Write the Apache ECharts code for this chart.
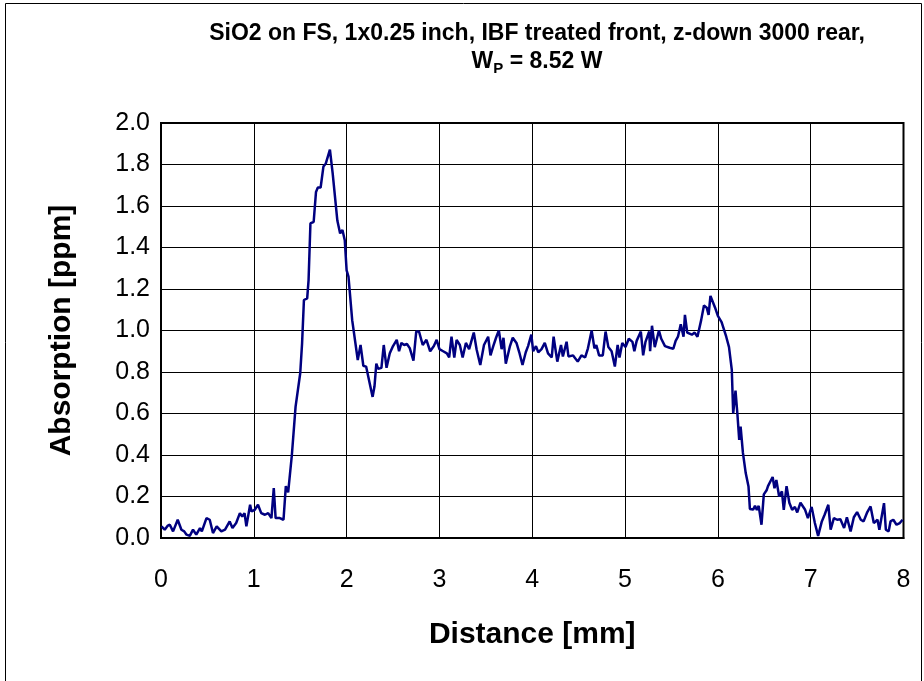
<!DOCTYPE html>
<html>
<head>
<meta charset="utf-8">
<script src="https://cdn.jsdelivr.net/npm/echarts@6/dist/echarts.min.js"></script>
<style>
html,body{margin:0;padding:0;background:#fff;}
#chart{width:924px;height:681px;}
</style>
</head>
<body>
<div id="chart"></div>
<script>
const titleLine1 = "SiO2 on FS, 1x0.25 inch, IBF treated front, z-down 3000 rear,";
const xAxisName = "Distance [mm]";
const yAxisName = "Absorption [ppm]";

const distance = [
0.005,0.04,0.07,0.095,0.13,0.18,0.22,0.25,0.275,0.31,0.345,0.38,0.42,0.44,0.49,0.525,0.56,0.60,0.615,0.65,
0.69,0.74,0.77,0.81,0.85,0.875,0.90,0.92,0.96,0.975,1.01,1.045,1.08,1.12,1.155,1.19,1.215,1.235,1.28,1.32,
1.345,1.37,1.41,1.45,1.47,1.50,1.52,1.54,1.575,1.59,1.61,1.645,1.67,1.69,1.72,1.75,1.776,1.82,1.85,1.87,
1.90,1.93,1.955,1.98,2.00,2.02,2.06,2.08,2.12,2.15,2.18,2.21,2.23,2.28,2.30,2.32,2.34,2.375,2.40,2.43,
2.465,2.50,2.54,2.565,2.59,2.62,2.65,2.68,2.72,2.75,2.78,2.82,2.86,2.90,2.94,2.97,3.00,3.04,3.08,3.105,
3.13,3.16,3.185,3.22,3.25,3.285,3.32,3.37,3.40,3.44,3.48,3.525,3.55,3.58,3.61,3.64,3.67,3.69,3.715,3.76,
3.79,3.83,3.86,3.895,3.93,3.955,3.99,4.01,4.04,4.065,4.10,4.135,4.17,4.21,4.23,4.27,4.31,4.33,4.37,4.39,
4.44,4.49,4.53,4.57,4.60,4.64,4.67,4.69,4.72,4.76,4.79,4.82,4.855,4.89,4.92,4.94,4.97,5.005,5.04,5.08,
5.10,5.125,5.17,5.195,5.22,5.26,5.27,5.29,5.32,5.365,5.39,5.43,5.48,5.52,5.545,5.57,5.60,5.63,5.645,5.67,
5.72,5.75,5.78,5.82,5.85,5.88,5.90,5.92,5.97,6.00,6.04,6.09,6.12,6.15,6.165,6.19,6.21,6.23,6.245,6.27,
6.30,6.33,6.345,6.38,6.40,6.42,6.44,6.47,6.495,6.525,6.54,6.59,6.61,6.63,6.66,6.69,6.71,6.74,6.77,6.80,
6.83,6.855,6.89,6.94,6.97,7.01,7.045,7.08,7.12,7.15,7.19,7.215,7.25,7.285,7.32,7.36,7.39,7.43,7.465,7.50,
7.54,7.57,7.61,7.645,7.68,7.72,7.74,7.79,7.81,7.84,7.86,7.89,7.925,7.96,7.99
];
const absorption = [
0.056,0.04,0.058,0.064,0.032,0.088,0.04,0.032,0.016,0.01,0.04,0.016,0.048,0.032,0.096,0.088,0.024,0.056,0.064,0.032,
0.04,0.08,0.048,0.072,0.12,0.104,0.12,0.056,0.16,0.128,0.136,0.16,0.12,0.112,0.12,0.096,0.24,0.096,0.096,0.088,
0.25,0.22,0.40,0.633,0.633,0.794,0.938,1.147,1.155,1.243,1.516,1.524,1.668,1.689,1.689,1.79,1.805,1.872,1.756,1.75,
1.53,1.468,1.484,1.435,1.29,1.26,1.05,1.045,0.858,0.93,0.83,0.826,0.82,0.68,0.73,0.84,0.815,0.82,0.93,0.82,
0.89,0.925,0.955,0.90,0.94,0.93,0.935,0.915,0.855,0.995,0.995,0.93,0.955,0.90,0.925,0.955,0.91,0.90,0.89,0.87,
0.97,0.87,0.955,0.93,0.87,0.94,0.91,0.99,0.91,0.834,0.93,0.97,0.88,0.925,0.965,1.0,0.91,0.965,0.84,0.925,
0.965,0.94,0.895,0.834,0.895,0.925,0.98,0.90,0.925,0.895,0.91,0.94,0.89,0.87,0.97,0.85,0.93,0.875,0.946,0.875,
0.88,0.85,0.88,0.87,0.914,1.0,0.914,0.93,0.88,0.88,0.995,0.92,0.90,0.826,0.93,0.87,0.94,0.92,0.96,0.945,
0.90,0.95,0.995,0.88,0.945,0.995,0.90,1.023,0.92,1.0,0.96,0.925,0.917,0.912,0.95,0.97,1.03,0.97,1.075,0.99,
0.98,0.99,0.97,1.05,1.12,1.11,1.075,1.167,1.11,1.07,1.04,0.97,0.92,0.81,0.60,0.71,0.60,0.473,0.537,0.41,
0.313,0.248,0.14,0.137,0.155,0.135,0.155,0.064,0.21,0.23,0.25,0.294,0.24,0.28,0.20,0.225,0.136,0.25,0.17,0.136,
0.15,0.123,0.17,0.136,0.096,0.15,0.072,0.01,0.08,0.112,0.16,0.04,0.096,0.088,0.09,0.048,0.10,0.032,0.10,0.125,
0.088,0.08,0.125,0.152,0.072,0.088,0.04,0.168,0.04,0.032,0.08,0.088,0.064,0.072,0.088
];

const FONT = "'Liberation Sans', Arial, sans-serif";
const chart = echarts.init(document.getElementById('chart'), null, {renderer:'canvas'});
const seriesData = distance.map((x, i) => [x, absorption[i]]);

chart.setOption({
  backgroundColor: '#ffffff',
  animation: false,
  title: {
    left: 532, top: 15, textAlign: 'center',
    text: '{t|' + titleLine1 + '}\n{t|W}{s|P}{t| = 8.52 W}',
    textStyle: {
      rich: {
        t: {fontFamily: FONT, fontSize: 23, fontWeight: 'bold', color: '#000', lineHeight: 28},
        s: {fontFamily: FONT, fontSize: 15, fontWeight: 'bold', color: '#000', verticalAlign: 'bottom', padding: [9,0,0,0], lineHeight: 28}
      }
    }
  },
  graphic: [
    {type: 'line', shape: {x1: 5.5, y1: 3.5, x2: 5.5, y2: 700}, style: {stroke: '#000', lineWidth: 1}},
    {type: 'line', shape: {x1: 5.5, y1: 3.5, x2: 921.5, y2: 3.5}, style: {stroke: '#000', lineWidth: 1}},
    {type: 'line', shape: {x1: 921.5, y1: 3.5, x2: 921.5, y2: 700}, style: {stroke: '#000', lineWidth: 1}}
  ],
  grid: {left: 161, right: 20.5, top: 123, bottom: 143, show: true, borderColor: '#000', borderWidth: 2, containLabel: false},
  xAxis: {
    type: 'value', min: 0, max: 8, interval: 1,
    name: xAxisName, nameLocation: 'middle', nameGap: 82,
    nameTextStyle: {fontFamily: FONT, fontSize: 30, fontWeight: 'bold', color: '#000'},
    axisLine: {show: true, lineStyle: {color: '#000', width: 2}},
    axisTick: {show: true, inside: true, length: 6, lineStyle: {color: '#000'}},
    axisLabel: {fontFamily: FONT, fontSize: 25, color: '#000', margin: 30},
    splitLine: {show: true, lineStyle: {color: '#000', width: 1}}
  },
  yAxis: {
    type: 'value', min: 0, max: 2, interval: 0.2,
    name: yAxisName, nameLocation: 'middle', nameGap: 84, nameRotate: 90,
    nameTextStyle: {fontFamily: FONT, fontSize: 30, fontWeight: 'bold', color: '#000'},
    axisLine: {show: true, lineStyle: {color: '#000', width: 2}},
    axisTick: {show: true, inside: true, length: 7, lineStyle: {color: '#000'}},
    axisLabel: {fontFamily: FONT, fontSize: 25, color: '#000', margin: 11, formatter: v => v.toFixed(1)},
    splitLine: {show: true, lineStyle: {color: '#000', width: 1}}
  },
  series: [{
    type: 'line', data: seriesData, showSymbol: false, symbol: 'none',
    lineStyle: {color: '#000080', width: 2.5}, smooth: false
  }]
});
</script>
</body>
</html>
